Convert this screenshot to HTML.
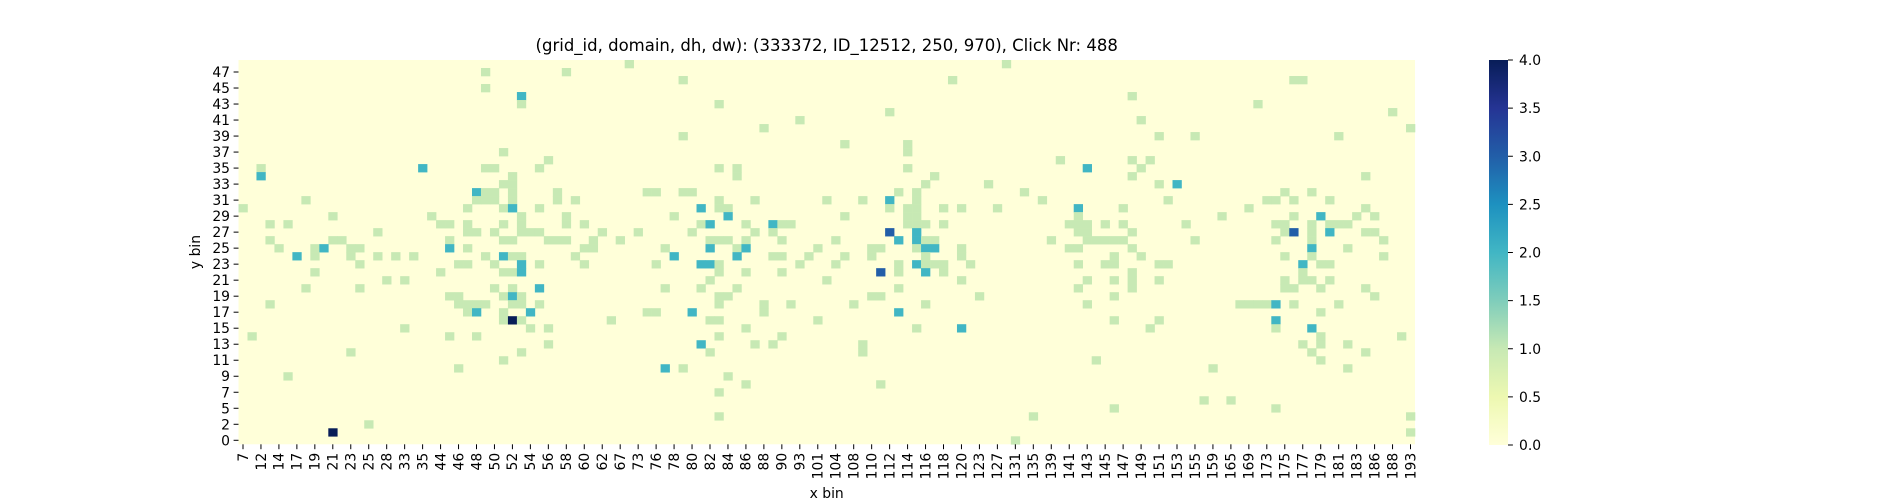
<!DOCTYPE html>
<html><head><meta charset="utf-8"><style>
html,body{margin:0;padding:0;background:#fff;}
svg{display:block;font-family:"DejaVu Sans","Liberation Sans",sans-serif;}
</style></head><body>
<svg id="chart" width="1900" height="500" viewBox="0 0 1900 500" xmlns="http://www.w3.org/2000/svg">
<text x="826.7" y="51" font-size="16.5" text-anchor="middle" fill="#000">(grid_id, domain, dh, dw): (333372, ID_12512, 250, 970), Click Nr: 488</text>
<g id="plot"></g>
<g id="xaxis"></g>
<g id="yaxis"></g>
<text x="826.7" y="498" font-size="13.9" text-anchor="middle">x bin</text>
<text transform="translate(200,252) rotate(-90)" font-size="13.9" text-anchor="middle">y bin</text>
<defs><linearGradient id="cbg" x1="0" y1="1" x2="0" y2="0"></linearGradient></defs>
<g id="cbar"></g>
</svg>
<script>
const xLabels = [7,12,14,17,19,21,23,25,28,33,35,44,46,48,50,52,54,56,58,60,62,67,73,76,78,80,82,84,86,88,90,93,101,104,108,110,112,114,116,118,120,123,127,131,135,139,141,143,145,147,149,151,153,155,159,165,169,173,175,177,179,181,183,186,188,193];
const yLabels = [47,45,43,41,39,37,35,33,31,29,27,25,23,21,19,17,15,13,11,9,7,5,2,0];
const nCols = 131;
const nRows = 48;
const cbTicks = [0,0.5,1,1.5,2,2.5,3,3.5,4];
const palette = ['#ffffd9','#edf8b1','#c7e9b4','#7fcdbb','#41b6c4','#1d91c0','#225ea8','#253494','#081d58'];
// [column index, row index (0 = top), count]
const cells = [
[2,13,1],[20,13,2],[2,14,2],[7,17,1],[0,18,1],[10,19,1],[21,19,1],[3,20,1],[5,20,1],[22,20,1],[15,21,1],[3,22,1],[10,22,1],[11,22,1],
[4,23,1],[8,23,1],[9,23,2],[12,23,1],[13,23,1],[6,24,2],[8,24,1],[12,24,1],[15,24,1],[17,24,1],[19,24,1],[13,25,1],[8,26,1],[22,26,1],
[16,27,1],[18,27,1],[7,28,1],[13,28,1],[3,30,1],[18,33,1],[1,34,1],[12,36,1],[5,39,1],[24,38,1],[14,45,1],[10,46,4],
[43,0,1],[27,1,1],[36,1,1],[49,2,1],[27,3,1],[31,4,2],[31,5,1],[49,9,1],[29,11,1],[34,12,1],[27,13,1],[28,13,1],[33,13,1],[30,14,1],[29,15,1],[30,15,1],
[26,16,2],[27,16,1],[28,16,1],[30,16,1],[35,16,1],[45,16,1],[46,16,1],[49,16,1],
[26,17,1],[27,17,1],[28,17,1],[30,17,1],[35,17,1],[37,17,1],
[25,18,1],[29,18,1],[30,18,2],[33,18,1],
[31,19,1],[36,19,1],[48,19,1],
[23,20,1],[25,20,1],[29,20,1],[31,20,1],[36,20,1],[38,20,1],
[25,21,1],[26,21,1],[28,21,1],[31,21,1],[32,21,1],[33,21,1],[40,21,1],[44,21,1],
[23,22,1],[29,22,1],[30,22,1],[34,22,1],[35,22,1],[36,22,1],[39,22,1],[42,22,1],
[23,23,2],[25,23,1],[38,23,1],[39,23,1],[47,23,1],
[27,24,1],[29,24,2],[30,24,1],[31,24,1],[37,24,1],[48,24,2],
[24,25,1],[25,25,1],[28,25,1],[31,25,2],[33,25,1],[38,25,1],[46,25,1],
[29,26,1],[30,26,1],[31,26,2],
[28,28,1],[30,28,1],[33,28,2],[47,28,1],
[23,29,1],[24,29,1],[29,29,1],[30,29,2],[31,29,1],
[24,30,1],[25,30,1],[26,30,1],[27,30,1],[30,30,1],[31,30,1],[33,30,1],
[25,31,1],[26,31,2],[29,31,1],[32,31,2],[45,31,1],[46,31,1],
[29,32,1],[30,32,4],[31,32,1],[41,32,1],
[32,33,1],[34,33,1],[23,34,1],[26,34,1],[34,35,1],[31,36,1],[29,37,1],[47,38,2],[49,38,1],
[54,39,1],[56,40,1],[71,40,1],[53,41,1],[53,44,1],[86,47,1],
[53,5,1],[72,6,1],[62,7,1],[58,8,1],[67,10,1],[74,10,1],[74,11,1],[53,13,1],[55,13,1],[55,14,1],[74,13,1],
[50,16,1],[73,16,1],[75,16,1],
[53,17,1],[57,17,1],[65,17,1],[69,17,1],[72,17,2],[75,17,1],
[51,18,2],[53,18,1],[54,18,1],[72,18,1],[74,18,1],[75,18,1],
[54,19,2],[67,19,1],[74,19,1],[75,19,1],
[51,20,1],[52,20,2],[56,20,1],[59,20,2],[60,20,1],[61,20,1],[74,20,1],[75,20,1],
[50,21,1],[57,21,1],[59,21,1],[72,21,3],[75,21,2],
[52,22,1],[53,22,1],[54,22,1],[56,22,1],[60,22,1],[66,22,1],[73,22,2],[75,22,2],
[52,23,2],[55,23,1],[56,23,2],[64,23,1],[70,23,1],[71,23,1],[75,23,1],
[55,24,2],[59,24,1],[60,24,1],[63,24,1],[67,24,1],[70,24,1],
[51,25,2],[52,25,2],[53,25,1],[62,25,1],[66,25,1],[73,25,1],[75,25,2],
[53,26,1],[56,26,1],[60,26,1],[71,26,3],[73,26,1],
[52,27,1],[65,27,1],[51,28,1],[55,28,1],[73,28,1],
[53,29,1],[54,29,1],[70,29,1],[71,29,1],
[53,30,1],[58,30,1],[61,30,1],[68,30,1],
[50,31,2],[58,31,1],[73,31,2],
[52,32,1],[53,32,1],[64,32,1],[56,33,1],[75,33,1],[53,34,1],[60,34,1],
[51,35,2],[57,35,1],[59,35,1],[69,35,1],[52,36,1],[69,36,1],
[85,0,1],[79,2,1],[99,4,1],[100,7,1],[102,9,1],[91,12,1],[99,12,1],[101,12,1],[94,13,2],[100,13,1],[77,14,1],[99,14,1],[76,15,1],[83,15,1],[102,15,1],[104,15,2],
[87,16,1],[89,17,1],[103,17,1],
[78,18,1],[80,18,1],[84,18,1],[93,18,2],[98,18,1],[93,19,1],
[76,20,1],[78,20,1],[92,20,1],[93,20,1],[94,20,1],[96,20,1],[98,20,1],
[93,21,1],[94,21,1],[99,21,1],
[76,22,1],[77,22,1],[90,22,1],[94,22,1],[95,22,1],[96,22,1],[97,22,1],[98,22,1],
[76,23,2],[77,23,2],[80,23,1],[92,23,1],[93,23,1],[99,23,1],
[76,24,1],[80,24,1],[97,24,1],[100,24,1],
[76,25,1],[77,25,1],[78,25,1],[81,25,1],[93,25,1],[96,25,1],[97,25,1],[102,25,1],[103,25,1],
[76,26,2],[78,26,1],[99,26,1],
[80,27,1],[94,27,1],[97,27,1],[99,27,1],[102,27,1],
[93,28,1],[99,28,1],[82,29,1],[97,29,1],[76,30,1],[94,30,1],[97,32,1],[102,32,1],[80,33,2],[101,33,1],[95,37,1],
[108,38,1],[123,38,1],[107,42,1],[110,42,1],[97,43,1],[115,43,1],[88,44,1],[130,44,1],[130,46,1],
[117,2,1],[118,2,1],[113,5,1],[128,6,1],[130,8,1],[106,9,1],[122,9,1],[125,14,1],
[116,16,1],[119,16,1],
[114,17,1],[115,17,1],[117,17,1],[121,17,1],
[112,18,1],[125,18,1],
[109,19,1],[117,19,1],[120,19,2],[124,19,1],[126,19,1],
[105,20,1],[115,20,1],[116,20,1],[119,20,1],[121,20,1],[122,20,1],[123,20,1],
[116,21,1],[117,21,3],[119,21,1],[121,21,2],[125,21,1],[126,21,1],
[106,22,1],[115,22,1],[119,22,1],[127,22,1],
[119,23,2],[123,23,1],[116,24,1],[119,24,1],[127,24,1],
[118,25,2],[120,25,1],[121,25,1],[118,26,1],
[116,27,1],[118,27,1],[119,27,1],[121,27,1],
[116,28,1],[117,28,1],[120,28,1],[125,28,1],[126,29,1],
[111,30,1],[112,30,1],[113,30,1],[114,30,1],[115,30,2],[117,30,1],[122,30,1],
[120,31,1],[115,32,2],[115,33,1],[119,33,2],[120,34,1],[129,34,1],
[118,35,1],[120,35,1],[123,35,1],[119,36,1],[125,36,1],[120,37,1]
];

const NS = 'http://www.w3.org/2000/svg';
const X0 = 238.5, X1 = 1415, Y0 = 60, Y1 = 444.3;
const cw = (X1 - X0) / nCols, rh = (Y1 - Y0) / nRows;
const xPos = c => X0 + c * cw;
const yPos = r => Y0 + r * rh;
const VMAX = 4;
function hex(h){return [1,3,5].map(i=>parseInt(h.substr(i,2),16));}
function color(v){
  let t = Math.max(0, Math.min(1, v / VMAX)) * (palette.length - 1);
  let i = Math.min(Math.floor(t), palette.length - 2), f = t - i;
  const a = hex(palette[i]), b = hex(palette[i+1]);
  return 'rgb(' + a.map((x,k)=>Math.round(x + (b[k]-x)*f)).join(',') + ')';
}
function mk(tag, attrs, parent){
  const e = document.createElementNS(NS, tag);
  for (const k in attrs) e.setAttribute(k, attrs[k]);
  parent.appendChild(e);
  return e;
}
const plot = document.getElementById('plot');
const bg = mk('rect', {x:X0, y:Y0, width:X1-X0, height:Y1-Y0, fill:color(0)}, plot);


cells.forEach(([c, r, v]) => {
  const e = mk('rect', {x:xPos(c), y:yPos(r), width:cw+0.3, height:rh+0.3, fill:color(v)}, plot);
  
  
});
const xa = document.getElementById('xaxis');
xLabels.forEach((lab, i) => {
  const cx = xPos(i * 2 + 0.5);
  const t = mk('line', {x1:cx, x2:cx, y1:Y1, y2:Y1+4.9, stroke:'#000', 'stroke-width':1}, xa);
  
  
  const tx = mk('text', {transform:'translate(' + (cx+4.8) + ',' + (Y1+8.5) + ') rotate(-90)', 'font-size':13.9, 'text-anchor':'end'}, xa);
  tx.textContent = lab;
  
  
});
const ya = document.getElementById('yaxis');
yLabels.forEach((lab, i) => {
  const cy = yPos(i * 2 + 1.5);
  const t = mk('line', {x1:X0-4.9, x2:X0, y1:cy, y2:cy, stroke:'#000', 'stroke-width':1}, ya);
  
  
  const tx = mk('text', {x:X0-8.5, y:cy+5, 'font-size':13.9, 'text-anchor':'end'}, ya);
  tx.textContent = lab;
  
  
});
const grad = document.getElementById('cbg');
palette.forEach((p, i) => mk('stop', {offset: (i/(palette.length-1)*100)+'%', 'stop-color':p}, grad));
const cb = document.getElementById('cbar');
const CX0 = 1489, CX1 = 1508, CY0 = 60, CY1 = 445;
const cbr = mk('rect', {x:CX0, y:CY0, width:CX1-CX0, height:CY1-CY0, fill:'url(#cbg)'}, cb);


cbTicks.forEach(v => {
  const cy = CY1 - v / VMAX * (CY1 - CY0);
  const t = mk('line', {x1:CX1, x2:CX1+4.9, y1:cy, y2:cy, stroke:'#000', 'stroke-width':1}, cb);
  
  
  const tx = mk('text', {x:CX1+11, y:cy+5, 'font-size':13.9}, cb);
  tx.textContent = v.toFixed(1);
  
  
});
</script>
</body></html>
